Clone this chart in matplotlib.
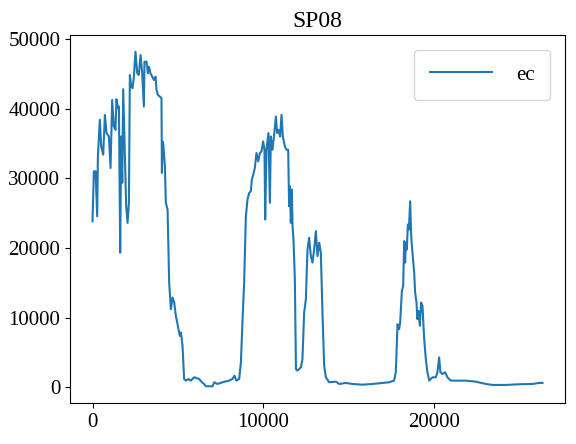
import matplotlib
matplotlib.use('Agg')
import matplotlib.pyplot as plt
from matplotlib.ticker import MultipleLocator

plt.rcParams['font.family'] = ['Liberation Serif', 'DejaVu Serif']
plt.rcParams['font.size'] = 15

# readings of the ec curve (x index, value)
x = [0, 20, 80, 180, 275, 315, 430, 510, 625, 725, 820, 960, 1055, 1150, 1250,
     1345, 1400, 1485, 1545, 1620, 1680, 1740, 1795, 1870, 1970, 2050, 2130, 2185,
     2265, 2340, 2420, 2515, 2615, 2710, 2810, 2905, 3005, 3040, 3160, 3240, 3300,
     3390, 3490, 3590, 3685, 3745, 3825, 3980, 4035, 4060, 4095, 4135, 4235, 4290,
     4390, 4485, 4585, 4680, 4780, 4875, 5030, 5110, 5170, 5265, 5360, 5460, 5610,
     5750, 5950, 6240, 6400, 6530, 6630, 7020, 7120, 7310, 7600, 7990, 8190, 8300,
     8420, 8580, 8680, 8770, 8870, 8970, 9065, 9165, 9260, 9320, 9400, 9495, 9590,
     9690, 9790, 9885, 9980, 10060, 10100, 10175, 10290, 10375, 10430, 10525, 10625,
     10725, 10800, 10880, 10975, 11055, 11135, 11250, 11345, 11445, 11500, 11545,
     11600, 11660, 11700, 11755, 11835, 11900, 11990, 12190, 12280, 12380, 12480,
     12575, 12670, 12770, 12865, 12965, 13065, 13160, 13260, 13355, 13450, 13550,
     13650, 13840, 14235, 14430, 14820, 15205, 15790, 16375, 16960, 17350, 17640,
     17740, 17840, 17935, 17995, 18095, 18170, 18230, 18285, 18330, 18385, 18445,
     18505, 18580, 18640, 18715, 18815, 18870, 18950, 19005, 19065, 19145, 19220,
     19300, 19400, 19495, 19590, 19690, 19885, 20080, 20175, 20275, 20350, 20470,
     20625, 20760, 20960, 21445, 21835, 22420, 23005, 23395, 24175, 24955, 25730,
     26120, 26320]
ec = [23840, 25500, 31000, 31000, 24550, 33140, 38400, 34570, 33390, 39100, 36490,
      36000, 31480, 41250, 37440, 36960, 41350, 40060, 40300, 19320, 36000, 29340,
      42790, 35530, 25990, 23600, 26470, 44830, 43160, 42930, 44590, 48170, 45080,
      44830, 47700, 45080, 40300, 46740, 46740, 45080, 46020, 45080, 44590, 44120,
      44590, 42690, 41970, 41640, 41500, 30770, 35290, 35060, 31710, 26470, 25510,
      15030, 11200, 12880, 12160, 10250, 8340, 7380, 7870, 5950, 1190, 950, 1190,
      950, 1430, 1190, 715, 470, 140, 140, 715, 470, 715, 950, 1190, 1660, 950, 1190,
      3580, 9300, 15030, 24550, 26950, 27900, 28130, 29810, 30520, 31480, 33630,
      32430, 33630, 33860, 35290, 34100, 24080, 34100, 36490, 26470, 36000, 34100,
      36250, 38870, 36490, 36960, 36000, 39110, 36000, 34570, 34100, 34100, 25990,
      28850, 23610, 28380, 23130, 21220, 15500, 2620, 2380, 2860, 4050, 10730, 12640,
      19790, 21460, 18830, 17890, 19790, 22410, 18830, 20750, 19320, 10730, 3090,
      1430, 715, 800, 470, 620, 470, 370, 470, 620, 715, 950, 2150, 9060, 8340, 9300,
      13830, 14540, 20980, 17890, 20750, 19790, 23370, 22650, 26700, 21700, 19320,
      16460, 13600, 12160, 9770, 10960, 8820, 12160, 11680, 6910, 4050, 2150, 950,
      1430, 1430, 2150, 4290, 2150, 1900, 2150, 1430, 950, 950, 950, 800, 470, 330,
      330, 430, 470, 620, 620]

fig = plt.figure(figsize=(5.76, 4.44), dpi=100)
ax = fig.add_axes([70 / 576, 41 / 444, 495 / 576, 368 / 444])
ax.plot(x, ec, label='ec')
ax.xaxis.set_major_locator(MultipleLocator(10000))
ax.set_title('SP08', fontsize=17)
ax.legend(loc='upper right', handlelength=3.0, handletextpad=1.15,
          borderpad=0.75, borderaxespad=0.7)
fig.savefig('out.png', dpi=100)
